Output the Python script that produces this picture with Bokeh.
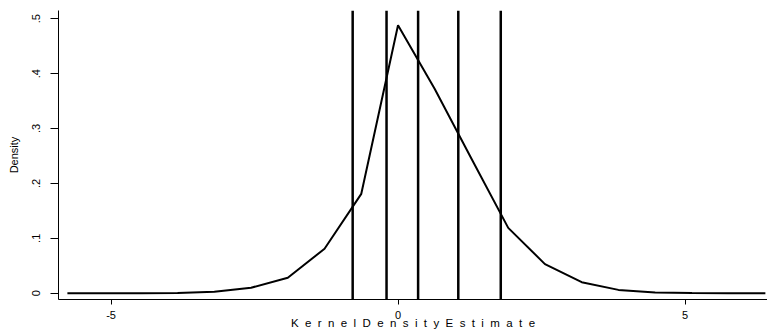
from bokeh.plotting import figure
from bokeh.models import FixedTicker, Range1d
from bokeh.embed import file_html
from bokeh.resources import INLINE

# Kernel density estimate (evaluation grid and density values)
kde_x = [-5.76, -5.12, -4.48, -3.84, -3.20, -2.56, -1.92, -1.28, -0.64, 0.0,
         0.64, 1.28, 1.92, 2.56, 3.20, 3.84, 4.48, 5.12, 5.76, 6.40]
kde_y = [0.0, 0.0, 0.0, 0.0004, 0.0025, 0.010, 0.028, 0.081, 0.181, 0.488,
         0.372, 0.245, 0.119, 0.053, 0.020, 0.006, 0.0012, 0.0002, 0.0, 0.0]

# Vertical reference lines
vlines_x = [-0.79, -0.20, 0.35, 1.05, 1.79]

# Ticks
x_ticks = [-5, 0, 5]
x_tick_labels = ["-5", "0", "5"]
y_ticks = [0.0, 0.1, 0.2, 0.3, 0.4, 0.5]
y_tick_labels = ["0", ".1", ".2", ".3", ".4", ".5"]

x_title_letters = list("KernelDensityEstimate")
x_title = "\u00a0\u00a0".join(x_title_letters)

x_lo, x_hi = -5.915, 6.437
y_lo, y_hi = -0.0115, 0.515

FONT = "Liberation Sans"

p = figure(width=767, height=332, output_backend="svg", toolbar_location=None,
           x_range=Range1d(x_lo, x_hi), y_range=Range1d(y_lo, y_hi),
           min_border_left=58, min_border_right=0, min_border_top=10,
           min_border_bottom=33)

p.outline_line_color = None
p.xgrid.visible = False
p.ygrid.visible = False
p.background_fill_color = "white"
p.border_fill_color = "white"

p.line(kde_x, kde_y, line_color="black", line_width=2)
p.segment(x0=vlines_x, x1=vlines_x, y0=[y_lo] * len(vlines_x), y1=[y_hi] * len(vlines_x),
          line_color="black", line_width=2.5)

# X axis
xa = p.xaxis[0]
xa.ticker = FixedTicker(ticks=x_ticks)
xa.major_label_overrides = {t: l for t, l in zip(x_ticks, x_tick_labels)}
xa.minor_tick_line_color = None
xa.major_tick_in = 0
xa.major_tick_out = 5
xa.axis_line_color = "black"
xa.major_tick_line_color = "black"
xa.major_label_text_font = FONT
xa.major_label_text_font_size = "11px"
xa.major_label_text_color = "black"
xa.major_label_standoff = 6
xa.axis_label = x_title
xa.axis_label_text_font = FONT
xa.axis_label_text_font_size = "11.5px"
xa.axis_label_text_font_style = "normal"
xa.axis_label_text_color = "black"
xa.axis_label_standoff = -5

# Y axis
ya = p.yaxis[0]
ya.ticker = FixedTicker(ticks=y_ticks)
ya.major_label_overrides = {t: l for t, l in zip(y_ticks, y_tick_labels)}
ya.minor_tick_line_color = None
ya.major_tick_in = 0
ya.major_tick_out = 8
ya.axis_line_color = "black"
ya.major_tick_line_color = "black"
ya.major_label_orientation = "vertical"
ya.major_label_text_font = FONT
ya.major_label_text_font_size = "11px"
ya.major_label_text_color = "black"
ya.major_label_standoff = 10
ya.axis_label = "Density"
ya.axis_label_text_font = FONT
ya.axis_label_text_font_size = "11px"
ya.axis_label_text_font_style = "normal"
ya.axis_label_text_color = "black"
ya.axis_label_standoff = 10

open("out.html", "w").write(file_html(p, INLINE))
